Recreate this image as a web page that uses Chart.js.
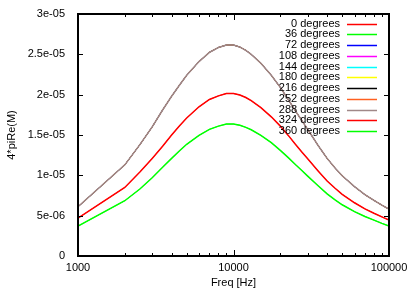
<!DOCTYPE html>
<html>
<head>
<meta charset="utf-8">
<script src="https://cdn.jsdelivr.net/npm/chart.js@4.4.1/dist/chart.umd.min.js"></script>
<style>
  html, body { margin: 0; padding: 0; background: #fff; }
  #wrap { width: 415px; height: 291px; }
</style>
</head>
<body>
<div id="wrap"><canvas id="c" width="415" height="291"></canvas></div>
<script>
// ---- data ----
const freqs = [1000, 2000, 2500, 3000, 3500, 4000, 4500, 5000, 6000, 7000, 8000, 9000, 10000, 11000, 12000, 13000, 15000, 17500, 20000, 22500, 25000, 27500, 30000, 35000, 40000, 45000, 50000, 60000, 70000, 80000, 90000, 100000];
const curveRed   = [4.7e-6, 8.5e-6, 10.4e-6, 12.1e-6, 13.6e-6, 15.0e-6, 16.15e-6, 17.1e-6, 18.5e-6, 19.4e-6, 19.85e-6, 20.15e-6, 20.15e-6, 19.95e-6, 19.65e-6, 19.25e-6, 18.4e-6, 17.25e-6, 16.1e-6, 14.95e-6, 13.85e-6, 12.9e-6, 12.05e-6, 10.55e-6, 9.3e-6, 8.4e-6, 7.65e-6, 6.6e-6, 5.85e-6, 5.3e-6, 4.85e-6, 4.47e-6];
const curveGreen = [3.7e-6, 6.85e-6, 8.3e-6, 9.7e-6, 11.0e-6, 12.1e-6, 13.05e-6, 13.85e-6, 14.95e-6, 15.7e-6, 16.1e-6, 16.35e-6, 16.35e-6, 16.2e-6, 15.95e-6, 15.65e-6, 14.95e-6, 14.05e-6, 13.1e-6, 12.2e-6, 11.35e-6, 10.6e-6, 9.9e-6, 8.7e-6, 7.7e-6, 6.95e-6, 6.35e-6, 5.5e-6, 4.9e-6, 4.45e-6, 4.05e-6, 3.72e-6];
const curveGray  = [6.1e-6, 11.3e-6, 13.8e-6, 16.0e-6, 18.1e-6, 19.8e-6, 21.2e-6, 22.4e-6, 24.1e-6, 25.25e-6, 25.85e-6, 26.15e-6, 26.15e-6, 25.9e-6, 25.5e-6, 25.0e-6, 23.9e-6, 22.4e-6, 20.9e-6, 19.4e-6, 18.0e-6, 16.8e-6, 15.7e-6, 13.7e-6, 12.1e-6, 10.9e-6, 9.95e-6, 8.6e-6, 7.6e-6, 6.9e-6, 6.3e-6, 5.8e-6];

const angleLabels = ['0 degrees', '36 degrees', '72 degrees', '108 degrees', '144 degrees', '180 degrees', '216 degrees', '252 degrees', '288 degrees', '324 degrees', '360 degrees'];
const seriesValues = [curveRed, curveGreen, curveGray, curveGray, curveGray, curveGray, curveGray, curveGray, curveGray, curveRed, curveGreen];
const seriesColors = ['#ff0000', '#00ff00', '#0000ff', '#ff00ff', '#00ffff', '#ffff00', '#000000', '#ff6020', '#a08888', '#ff0000', '#00ff00'];

const xTickValues = [1000, 2000, 3000, 4000, 5000, 6000, 7000, 8000, 9000, 10000, 20000, 30000, 40000, 50000, 60000, 70000, 80000, 90000, 100000];
const xMajorValues = [1000, 10000, 100000];
const xMajorLabels = ['1000', '10000', '100000'];
const yTickValues = [0, 5e-6, 1e-5, 1.5e-5, 2e-5, 2.5e-5, 3e-5];
const yTickLabels = ['0', '5e-06', '1e-05', '1.5e-05', '2e-05', '2.5e-05', '3e-05'];
const xTitle = 'Freq [Hz]';
const yTitle = '4*piRe(M)';

const FONT = '"Liberation Sans", Arial, Helvetica, sans-serif';
const n = angleLabels.length;

const datasets = angleLabels.map((lab, i) => ({
  label: lab,
  data: freqs.map((f, k) => ({ x: f, y: seriesValues[i][k] })),
  borderColor: seriesColors[i],
  backgroundColor: seriesColors[i],
  borderWidth: i >= n - 3 ? 1.5 : 0.8,
  pointRadius: 0,
  tension: 0,
  fill: false,
  order: n - i
}));

const framePlugin = {
  id: 'framePlugin',
  afterDatasetsDraw(chart) {
    const { ctx, chartArea: a, scales } = chart;
    const x = scales.x, y = scales.y;
    ctx.save();
    ctx.strokeStyle = '#000';
    ctx.lineWidth = 1;
    const seg = (x1, y1, x2, y2) => { ctx.beginPath(); ctx.moveTo(x1, y1); ctx.lineTo(x2, y2); ctx.stroke(); };
    xTickValues.forEach(v => {
      const px = Math.round(x.getPixelForValue(v)) + 0.5;
      const len = xMajorValues.includes(v) ? 6 : 3;
      seg(px, a.bottom, px, a.bottom - len);
      seg(px, a.top, px, a.top + len);
    });
    yTickValues.forEach(v => {
      const py = Math.round(y.getPixelForValue(v)) + 0.5;
      seg(a.left, py, a.left + 5, py);
      seg(a.right, py, a.right - 5, py);
    });
    ctx.lineWidth = 2;
    ctx.strokeRect(a.left, a.top, a.right - a.left, a.bottom - a.top);

    // legend (gnuplot style, top right inside)
    ctx.font = '11px ' + FONT;
    ctx.textAlign = 'right';
    ctx.textBaseline = 'middle';
    chart.data.datasets.forEach((ds, i) => {
      const ly = 23.5 + i * 10.77;
      ctx.fillStyle = '#000';
      ctx.fillText(ds.label, 340, ly);
      ctx.strokeStyle = ds.borderColor;
      ctx.lineWidth = 1.5;
      seg(347, Math.round(ly) + 0.5, 377, Math.round(ly) + 0.5);
    });

    // axis titles
    ctx.fillStyle = '#000';
    ctx.textAlign = 'center';
    ctx.textBaseline = 'middle';
    ctx.fillText(xTitle, (a.left + a.right) / 2, 283);
    ctx.translate(12, (a.top + a.bottom) / 2);
    ctx.rotate(-Math.PI / 2);
    ctx.fillText(yTitle, 0, 0);
    ctx.restore();
  }
};

new Chart(document.getElementById('c'), {
  type: 'line',
  data: { datasets },
  options: {
    responsive: false,
    devicePixelRatio: 1,
    animation: false,
    layout: { padding: { top: 14, right: 26, left: 0, bottom: 0 } },
    plugins: { legend: { display: false }, tooltip: { enabled: false } },
    scales: {
      x: {
        type: 'logarithmic',
        min: 1000, max: 100000,
        grid: { display: false },
        border: { display: false },
        afterBuildTicks: s => { s.ticks = xTickValues.map(v => ({ value: v })); },
        afterFit: s => { s.height = 35; },
        ticks: {
          autoSkip: false, maxRotation: 0, padding: -3,
          color: '#000', font: { family: FONT, size: 11 },
          callback: v => { const k = xMajorValues.indexOf(v); return k >= 0 ? xMajorLabels[k] : ''; }
        }
      },
      y: {
        type: 'linear',
        min: 0, max: 3e-5,
        grid: { display: false },
        border: { display: false },
        afterBuildTicks: s => { s.ticks = yTickValues.map(v => ({ value: v })); },
        afterFit: s => { s.width = 78; },
        ticks: {
          padding: 5, color: '#000', font: { family: FONT, size: 11 },
          callback: (v, idx) => yTickLabels[idx]
        }
      }
    }
  },
  plugins: [framePlugin]
});
</script>
</body>
</html>
